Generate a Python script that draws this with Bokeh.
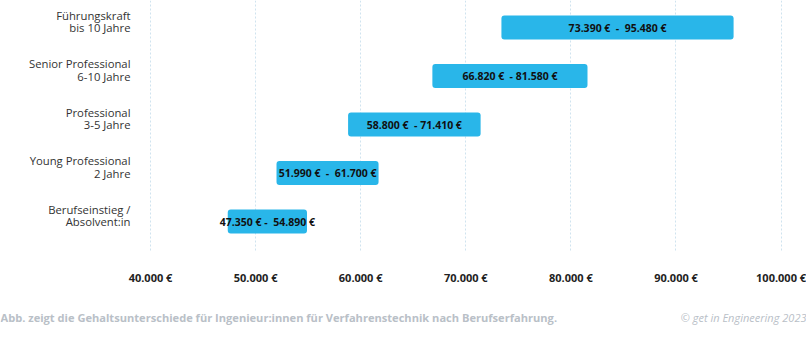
from bokeh.plotting import figure
from bokeh.models import Range1d, FixedTicker, ColumnDataSource, LinearAxis, Label, Grid
from bokeh.core.properties import value
from bokeh.embed import file_html
from bokeh.resources import INLINE

NB = "\u00a0"
categories = ["Berufseinstieg /\nAbsolvent:in", "Young Professional\n2 Jahre",
              "Professional\n3-5 Jahre", "Senior Professional\n6-10 Jahre",
              "Führungskraft\nbis 10 Jahre"]
low = [47350, 51990, 58800, 66820, 73390]
high = [54890, 61700, 71410, 81580, 95480]
bar_labels = ["47.350 € -  54.890 €", "51.990 €  -  61.700 €", "58.800 €  - 71.410 €",
              "66.820 €  - 81.580 €", "73.390 €  -  95.480 €"]
x_ticks = [40000, 50000, 60000, 70000, 80000, 90000, 100000]
x_tick_labels = ["40.000 €", "50.000 €", "60.000 €", "70.000 €", "80.000 €", "90.000 €", "100.000 €"]
footer_left = "Abb. zeigt die Gehaltsunterschiede für Ingenieur:innen für Verfahrenstechnik nach Berufserfahrung."
footer_right = "© get in Engineering 2023"

ypos = list(range(len(categories)))
mid = [(a + b) / 2 for a, b in zip(low, high)]
src = ColumnDataSource(dict(y=ypos, low=low, high=high, mid=mid,
                            lab=[s.replace(" ", NB) for s in bar_labels]))

X0, X1 = 25728, 102417          # full canvas width
Y0, Y1 = -2.391, 4.557          # full canvas height
FRAME_LEFT_X = 39049            # where the category axis sits
FRAME_BOTTOM_Y = -0.598         # where the value axis sits

p = figure(width=806, height=337, output_backend="svg", toolbar_location=None,
           x_range=Range1d(X0, X1), y_range=Range1d(Y0, Y1),
           x_axis_type=None, y_axis_type=None, min_border=0)
p.outline_line_color = None
p.background_fill_color = "white"
p.border_fill_color = "white"

grid = Grid(dimension=0, ticker=FixedTicker(ticks=x_ticks), cross_bounds=(FRAME_BOTTOM_Y, Y1),
            grid_line_color="#cfe3ef", grid_line_dash="2 2", grid_line_width=1)
p.add_layout(grid)

p.hbar(y="y", left="low", right="high", height=0.495, source=src,
       fill_color="#29b6e9", line_color=None, border_radius=3)
p.text(x="mid", y="y", text="lab", source=src, text_align="center", text_baseline="middle",
       text_font=value("Open Sans"), text_font_style="bold", text_font_size="10.5px",
       text_color="#111111")

xax = LinearAxis(ticker=FixedTicker(ticks=x_ticks), fixed_location=FRAME_BOTTOM_Y,
                 major_label_overrides={t: l for t, l in zip(x_ticks, x_tick_labels)})
xax.axis_line_color = None
xax.major_tick_line_color = None
xax.minor_tick_line_color = None
xax.major_label_standoff = 13
xax.major_label_text_font = "Open Sans"
xax.major_label_text_font_style = "bold"
xax.major_label_text_font_size = "11px"
xax.major_label_text_color = "#222222"
p.add_layout(xax, "below")

p.extra_y_ranges = {"lab": Range1d(Y0 - 0.124, Y1 - 0.124)}
yax = LinearAxis(y_range_name="lab", ticker=FixedTicker(ticks=ypos), fixed_location=FRAME_LEFT_X,
                 major_label_overrides={i: c for i, c in zip(ypos, categories)})
yax.axis_line_color = None
yax.major_tick_line_color = None
yax.minor_tick_line_color = None
yax.major_label_standoff = 4
yax.major_label_text_font = "Open Sans"
yax.major_label_text_font_size = "11.3px"
yax.major_label_text_color = "#333333"
yax.major_label_text_align = "right"
yax.major_label_text_line_height = 0.85
p.add_layout(yax, "left")

p.add_layout(Label(x=0, y=20, x_units="screen", y_units="screen", text=footer_left,
                   text_font="Open Sans", text_font_style="bold", text_font_size="11.1px",
                   text_color="#b9c0c7", text_baseline="middle", text_align="left"))
p.add_layout(Label(x=806, y=20, x_units="screen", y_units="screen", text=footer_right,
                   text_font="Open Sans", text_font_style="italic", text_font_size="11px",
                   text_color="#b9c0c7", text_baseline="middle", text_align="right"))

open("out.html", "w").write(file_html(p, INLINE))
